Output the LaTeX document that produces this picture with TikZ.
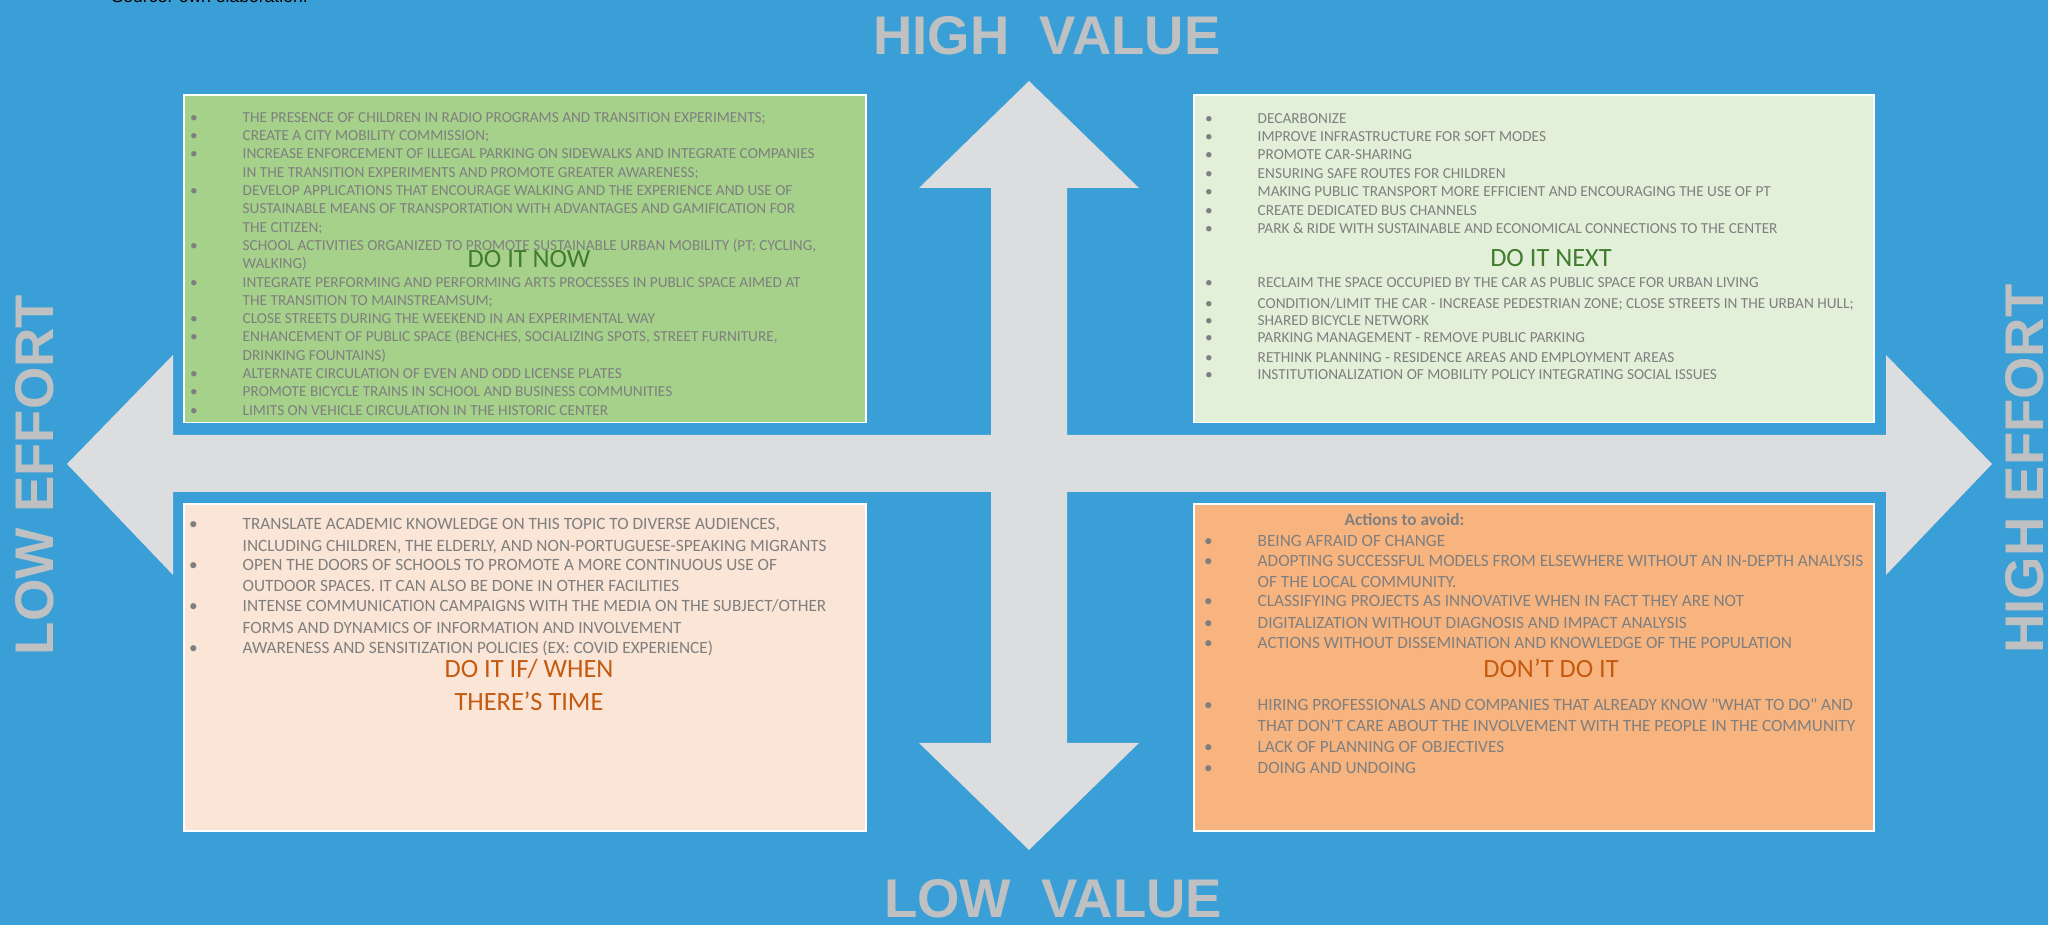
\documentclass[tikz,border=0pt]{standalone}
\usepackage{fontspec}
\setmainfont{Carlito}
\newfontfamily\bodyfont{Carlito}[Ligatures=TeXOff]
\newfontfamily\lblfont{Liberation Sans}
\usepackage{xcolor}
\definecolor{ocean}{HTML}{3A9FD6}
\definecolor{mist}{HTML}{DCDDDF}
\definecolor{ash}{HTML}{BFC0C2}
\definecolor{leaf}{HTML}{A6D18B}
\definecolor{sage}{HTML}{E2EFD9}
\definecolor{peach}{HTML}{FBE5D6}
\definecolor{apricot}{HTML}{F8B47F}
\definecolor{slate}{HTML}{7F7F7F}
\definecolor{forest}{HTML}{427D2E}
\definecolor{rust}{HTML}{C55A11}
\usepackage{tikz}
\newcommand{\bul}{\llap{\textbullet\hspace{0.45cm}}}
\tikzset{
  quad/.style={draw=white,line width=0.3pt},
  txt/.style={font=\bodyfont\fontsize{4.35}{5.2}\selectfont,text=slate,inner sep=0pt,anchor=mid west},
  txtl/.style={txt,font=\bodyfont\fontsize{4.9}{5.8}\selectfont},
  ttl/.style={font=\bodyfont\fontsize{7.5}{9.2}\selectfont,inner sep=0pt,align=center},
  big/.style={font=\lblfont\bfseries\fontsize{15.5}{18}\selectfont,text=ash,inner sep=0pt,anchor=base},
}

\begin{document}
\begin{tikzpicture}[x=1cm,y=1cm]
  \useasboundingbox (0,0) rectangle (20.48,-9.25);
  % background
  \fill[ocean] (0,0) rectangle (20.48,-9.25);
  \node[font=\lblfont\fontsize{5}{6}\selectfont,anchor=base west,inner sep=0pt] (src) at (1.11,-0.027) {Source: own elaboration.};
  % effort / value cross
  \fill[mist] (0.67,-4.64) -- (1.73,-3.55) -- (1.73,-4.35) -- (18.86,-4.35) -- (18.86,-3.55) -- (19.92,-4.64)
    -- (18.86,-5.75) -- (18.86,-4.92) -- (1.73,-4.92) -- (1.73,-5.75) -- cycle;
  \fill[mist] (10.29,-0.81) -- (11.39,-1.88) -- (10.67,-1.88) -- (10.67,-7.43) -- (11.39,-7.43) -- (10.29,-8.50)
    -- (9.19,-7.43) -- (9.91,-7.43) -- (9.91,-1.88) -- (9.19,-1.88) -- cycle;
  % axis labels
  \node[big] (hival) at (10.47,-0.546) {HIGH\ \ VALUE};
  \node[big] (loval) at (10.53,-9.18) {LOW\ \ VALUE};
  \node[big,rotate=90] (loeff) at (0.54,-4.75) {LOW EFFORT};
  \node[big,rotate=90] (hieff) at (20.43,-4.69) {HIGH EFFORT};
  % quadrants
  \filldraw[quad,fill=leaf] (1.84,-0.95) rectangle (8.66,-4.227);
  \filldraw[quad,fill=sage] (11.94,-0.95) rectangle (18.74,-4.227);
  \filldraw[quad,fill=peach] (1.84,-5.04) rectangle (8.66,-8.31);
  \filldraw[quad,fill=apricot] (11.94,-5.04) rectangle (18.74,-8.31);
  % do it now
  \foreach \w [count=\i] in {
    {\bul THE PRESENCE OF CHILDREN IN RADIO PROGRAMS AND TRANSITION EXPERIMENTS;},
    {\bul CREATE A CITY MOBILITY COMMISSION;},
    {\bul INCREASE ENFORCEMENT OF ILLEGAL PARKING ON SIDEWALKS AND INTEGRATE COMPANIES},
    {IN THE TRANSITION EXPERIMENTS AND PROMOTE GREATER AWARENESS;},
    {\bul DEVELOP APPLICATIONS THAT ENCOURAGE WALKING AND THE EXPERIENCE AND USE OF},
    {SUSTAINABLE MEANS OF TRANSPORTATION WITH ADVANTAGES AND GAMIFICATION FOR},
    {THE CITIZEN;},
    {\bul SCHOOL ACTIVITIES ORGANIZED TO PROMOTE SUSTAINABLE URBAN MOBILITY (PT; CYCLING,},
    {WALKING)},
    {\bul INTEGRATE PERFORMING AND PERFORMING ARTS PROCESSES IN PUBLIC SPACE AIMED AT},
    {THE TRANSITION TO MAINSTREAMSUM;},
    {\bul CLOSE STREETS DURING THE WEEKEND IN AN EXPERIMENTAL WAY},
    {\bul ENHANCEMENT OF PUBLIC SPACE (BENCHES, SOCIALIZING SPOTS, STREET FURNITURE,},
    {DRINKING FOUNTAINS)},
    {\bul ALTERNATE CIRCULATION OF EVEN AND ODD LICENSE PLATES},
    {\bul PROMOTE BICYCLE TRAINS IN SCHOOL AND BUSINESS COMMUNITIES},
    {\bul LIMITS ON VEHICLE CIRCULATION IN THE HISTORIC CENTER}}
    \node[txt] (now\i) at (2.42,{-1.14-0.183*(\i-1)}) {\w};
  \node[ttl,text=forest] (now) at (5.29,-2.59) {DO IT NOW};
  % do it next
  \foreach \y/\w [count=\i] in {1.15/{DECARBONIZE},1.333/{IMPROVE INFRASTRUCTURE FOR SOFT MODES},
    1.51/{PROMOTE CAR-SHARING},1.70/{ENSURING SAFE ROUTES FOR CHILDREN},
    1.883/{MAKING PUBLIC TRANSPORT MORE EFFICIENT AND ENCOURAGING THE USE OF PT},
    2.067/{CREATE DEDICATED BUS CHANNELS},
    2.25/{PARK \& RIDE WITH SUSTAINABLE AND ECONOMICAL CONNECTIONS TO THE CENTER},
    2.793/{RECLAIM THE SPACE OCCUPIED BY THE CAR AS PUBLIC SPACE FOR URBAN LIVING},
    3.00/{CONDITION/LIMIT THE CAR - INCREASE PEDESTRIAN ZONE; CLOSE STREETS IN THE URBAN HULL;},
    3.173/{SHARED BICYCLE NETWORK},3.343/{PARKING MANAGEMENT - REMOVE PUBLIC PARKING},
    3.54/{RETHINK PLANNING - RESIDENCE AREAS AND EMPLOYMENT AREAS},
    3.71/{INSTITUTIONALIZATION OF MOBILITY POLICY INTEGRATING SOCIAL ISSUES}}
    \node[txt] (next\i) at (12.57,-\y) {\bul\w};
  \node[ttl,text=forest] (next) at (15.51,-2.58) {DO IT NEXT};
  % do it if / when
  \foreach \y/\w [count=\i] in {
    5.21/{\bul TRANSLATE ACADEMIC KNOWLEDGE ON THIS TOPIC TO DIVERSE AUDIENCES,},
    5.433/{INCLUDING CHILDREN, THE ELDERLY, AND NON-PORTUGUESE-SPEAKING MIGRANTS},
    5.617/{\bul OPEN THE DOORS OF SCHOOLS TO PROMOTE A MORE CONTINUOUS USE OF},
    5.833/{OUTDOOR SPACES. IT CAN ALSO BE DONE IN OTHER FACILITIES},
    6.033/{\bul INTENSE COMMUNICATION CAMPAIGNS WITH THE MEDIA ON THE SUBJECT/OTHER},
    6.25/{FORMS AND DYNAMICS OF INFORMATION AND INVOLVEMENT},
    6.45/{\bul AWARENESS AND SENSITIZATION POLICIES (EX: COVID EXPERIENCE)}}
    \node[txtl] (when\i) at (2.42,-\y) {\w};
  \node[ttl,text=rust] (when) at (5.29,-6.85) {DO IT IF/ WHEN\\THERE’S TIME};
  % don't do it
  \node[txtl,anchor=mid,font=\bodyfont\bfseries\fontsize{4.9}{5.8}\selectfont] (avoid) at (14.045,-5.167) {Actions to avoid:};
  \foreach \y/\w [count=\i] in {
    5.377/{\bul BEING AFRAID OF CHANGE},
    5.577/{\bul ADOPTING SUCCESSFUL MODELS FROM ELSEWHERE WITHOUT AN IN-DEPTH ANALYSIS},
    5.793/{OF THE LOCAL COMMUNITY.},
    5.983/{\bul CLASSIFYING PROJECTS AS INNOVATIVE WHEN IN FACT THEY ARE NOT},
    6.20/{\bul DIGITALIZATION WITHOUT DIAGNOSIS AND IMPACT ANALYSIS},
    6.40/{\bul ACTIONS WITHOUT DISSEMINATION AND KNOWLEDGE OF THE POPULATION},
    7.017/{\bul HIRING PROFESSIONALS AND COMPANIES THAT ALREADY KNOW "WHAT TO DO" AND},
    7.233/{THAT DON'T CARE ABOUT THE INVOLVEMENT WITH THE PEOPLE IN THE COMMUNITY},
    7.44/{\bul LACK OF PLANNING OF OBJECTIVES},
    7.65/{\bul DOING AND UNDOING}}
    \node[txtl] (dont\i) at (12.57,-\y) {\w};
  \node[ttl,text=rust] (dont) at (15.51,-6.68) {DON’T DO IT};
\end{tikzpicture}
\end{document}
